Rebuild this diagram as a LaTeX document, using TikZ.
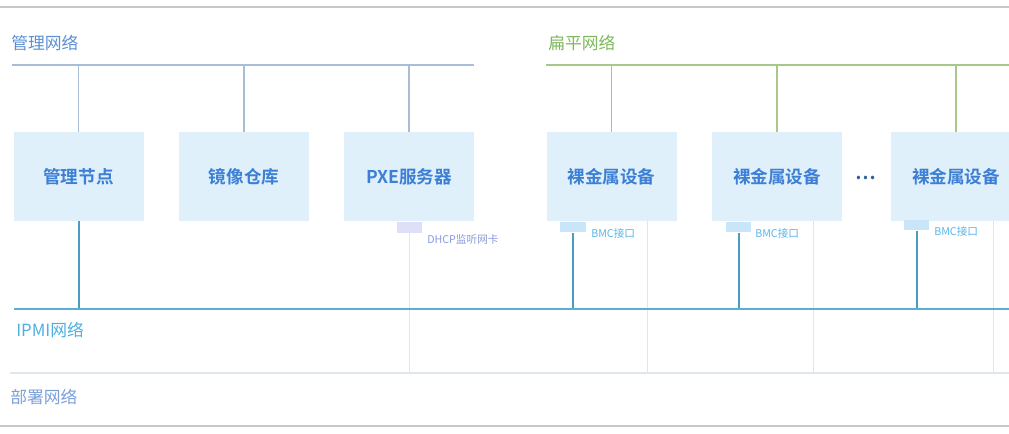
\documentclass[tikz,border=0pt]{standalone}
\usepackage{fontspec}
\setmainfont{Noto Sans CJK SC}
\newfontfamily\cjkb{Noto Sans CJK SC Bold}
\definecolor{boxfill}{HTML}{DFF0FB}
\definecolor{boxtext}{HTML}{3D7FD4}
\definecolor{mgmt}{HTML}{A9BDD4}
\definecolor{mgmttext}{HTML}{5B8FD6}
\definecolor{flat}{HTML}{A8C88A}
\definecolor{flattext}{HTML}{7DB85A}
\definecolor{ipmi}{HTML}{5AAED0}
\definecolor{ipmidrop}{HTML}{4A9CC0}
\definecolor{ipmitext}{HTML}{4DB0E0}
\definecolor{deploy}{HTML}{DFE6EE}
\definecolor{deploytext}{HTML}{7B9FD8}
\definecolor{bmcfill}{HTML}{C8E6F8}
\definecolor{bmctext}{HTML}{5AB4E8}
\definecolor{dhcpfill}{HTML}{DDE0F8}
\definecolor{dhcptext}{HTML}{8899DD}
\definecolor{frame}{HTML}{C8C8C8}
\tikzset{
  devbox/.style={fill=boxfill, minimum width=97.5pt, minimum height=66.75pt, inner sep=0pt, text=boxtext, font=\cjkb\fontsize{13.2pt}{15pt}\selectfont},
  netlabel/.style={anchor=west, inner sep=0pt, font=\fontsize{12.6pt}{14pt}\selectfont},
  port/.style={minimum width=19pt, minimum height=8pt, inner sep=0pt},
  portlabel/.style={anchor=west, inner sep=0pt, font=\fontsize{8pt}{9pt}\selectfont},
  mgmtline/.style={draw=mgmt, line width=1.2pt},
  flatline/.style={draw=flat, line width=1.2pt},
  ipmiline/.style={draw=ipmi, line width=1.5pt},
  ipmidropline/.style={draw=ipmidrop, line width=1.5pt},
  deployline/.style={draw=deploy, line width=1pt},
}
\begin{document}
\begin{tikzpicture}[x=0.75pt, y=-0.75pt]
\useasboundingbox (0,0) rectangle (1009,433);
% frame lines
\draw[frame, line width=1pt] (0,7) -- (1009,7);
\draw[frame, line width=1pt] (0,426) -- (1009,426);

% network lines
\coordinate (m0) at (12,65);
\coordinate (m1) at (474,65);
\coordinate (f0) at (546,65);
\coordinate (f1) at (1009,65);
\coordinate (i0) at (14,309);
\coordinate (i1) at (1009,309);
\coordinate (d0) at (10,373);
\coordinate (d1) at (1009,373);

\draw[deployline] (d0) -- (d1);

% labels
\node[netlabel, text=mgmttext] (lm) at (11,43) {管理网络};
\node[netlabel, text=flattext] (lf) at (548,43) {扁平网络};
\node[netlabel, text=ipmitext] (li) at (16,330) {IPMI网络};
\node[netlabel, text=deploytext] (ld) at (10,397) {部署网络};

% boxes
\node[devbox] (b1) at (78.5,176.5) {管理节点};
\node[devbox] (b2) at (244,176.5) {镜像仓库};
\node[devbox] (b3) at (409,176.5) {PXE服务器};
\node[devbox] (b4) at (611.5,176.5) {裸金属设备};
\node[devbox] (b5) at (777,176.5) {裸金属设备};
\node[devbox] (b6) at (956,176.5) {裸金属设备};
\node[text=boxtext!75!black, inner sep=0pt, font=\cjkb\fontsize{14pt}{15pt}\selectfont] (dots) at (866,178) {…};

% ports
\node[port, fill=dhcpfill] (p3) at (409.5,227.5) {};
\node[port, fill=bmcfill] (p4) at (573,227) {};
\node[port, fill=bmcfill] (p5) at (738.5,227) {};
\node[port, fill=bmcfill] (p6) at (916.5,225) {};
\node[portlabel, text=dhcptext] (l3) at (427,239) {DHCP监听网卡};
\node[portlabel, text=bmctext] (l4) at (591,233) {BMC接口};
\node[portlabel, text=bmctext] (l5) at (755,233) {BMC接口};
\node[portlabel, text=bmctext] (l6) at (934,231) {BMC接口};

% deploy drops (thin light)
\draw[deployline] (p3.south) -- (p3.south |- d0);
\draw[deployline] ([xshift=-21.75pt]b4.south east) -- ([xshift=-21.75pt]b4.south east |- d0);
\draw[deployline] ([xshift=-21.75pt]b5.south east) -- ([xshift=-21.75pt]b5.south east |- d0);
\draw[deployline] ([xshift=-21pt]b6.south east) -- ([xshift=-21pt]b6.south east |- d0);

% ipmi drops
\draw[ipmidropline] (b1.south) -- (b1.south |- i0);
\draw[ipmidropline] (p4.south) -- (p4.south |- i0);
\draw[ipmidropline] (p5.south) -- (p5.south |- i0);
\draw[ipmidropline] (p6.south) -- (p6.south |- i0);
\draw[ipmiline] (i0) -- (i1);

% management network
\draw[mgmtline] (m0) -- (m1);
\draw[mgmtline] (b1.north |- m0) -- (b1.north);
\draw[mgmtline] (b2.north |- m0) -- (b2.north);
\draw[mgmtline] (b3.north |- m0) -- (b3.north);

% flat network
\draw[flatline] (f0) -- (f1);
\draw[flatline] (b4.north |- f0) -- (b4.north);
\draw[flatline] (b5.north |- f0) -- (b5.north);
\draw[flatline] (b6.north |- f0) -- (b6.north);
\end{tikzpicture}
\end{document}
